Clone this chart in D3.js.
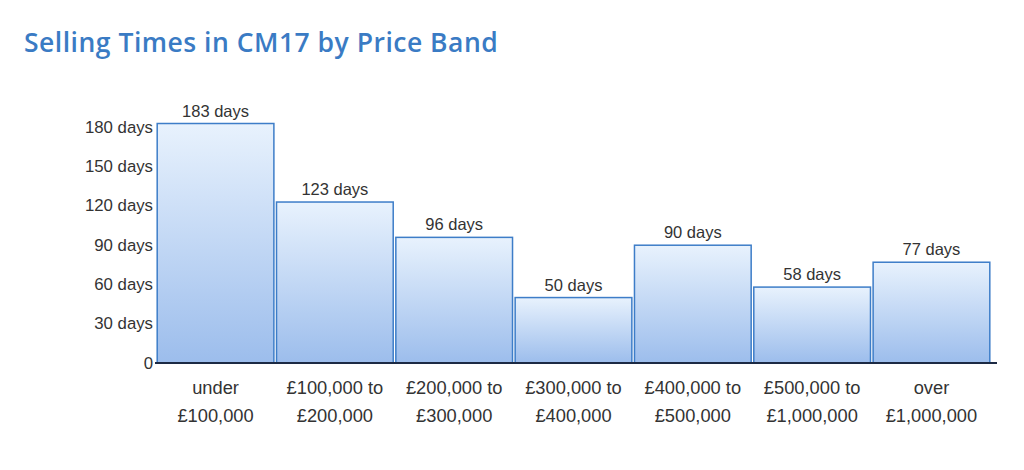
<!DOCTYPE html>
<html>
<head>
<meta charset="utf-8">
<script src="https://cdn.jsdelivr.net/npm/d3@7"></script>
<style>
  body { margin: 0; background: #fff; }
  .chart text { font-family: "Liberation Sans", Arial, sans-serif; fill: #333; }
</style>
</head>
<body>
<svg class="chart" width="1024" height="470"></svg>
<script>
// price bands and average selling time in days
const bands = [
  ["under", "£100,000"],
  ["£100,000 to", "£200,000"],
  ["£200,000 to", "£300,000"],
  ["£300,000 to", "£400,000"],
  ["£400,000 to", "£500,000"],
  ["£500,000 to", "£1,000,000"],
  ["over", "£1,000,000"]
];
const days = [183, 123, 96, 50, 90, 58, 77];
const yTicks = [0, 30, 60, 90, 120, 150, 180];

const svg = d3.select("svg.chart");

svg.append("text")
  .attr("x", 24)
  .attr("y", 52)
  .style("font-family", "'Open Sans', 'Noto Sans', sans-serif")
  .style("font-weight", 600)
  .style("font-size", "26.5px")
  .style("letter-spacing", "0.5px")
  .style("fill", "#3a7bc4")
  .text("Selling Times in CM17 by Price Band");

const grad = svg.append("defs").append("linearGradient")
  .attr("id", "barFill")
  .attr("x1", 0).attr("y1", 0).attr("x2", 0).attr("y2", 1);
grad.append("stop").attr("offset", "0%").attr("stop-color", "#e8f2fd");
grad.append("stop").attr("offset", "100%").attr("stop-color", "#9cbdec");

const x = d3.scaleBand()
  .domain(d3.range(bands.length))
  .range([156, 991])
  .paddingInner(0.022)
  .paddingOuter(0.01);

const y = d3.scaleLinear()
  .domain([0, 183])
  .range([363, 123.5]);

// bars
svg.append("g").selectAll("rect")
  .data(days)
  .join("rect")
    .attr("x", (d, i) => x(i))
    .attr("y", d => y(d))
    .attr("width", x.bandwidth())
    .attr("height", d => y(0) - y(d))
    .attr("fill", "url(#barFill)")
    .attr("stroke", "#3d7dc8")
    .attr("stroke-width", 1.5);

// value labels
svg.append("g").selectAll("text")
  .data(days)
  .join("text")
    .attr("x", (d, i) => x(i) + x.bandwidth() / 2)
    .attr("y", d => y(d) - 7)
    .attr("text-anchor", "middle")
    .style("font-size", "16.5px")
    .text(d => d + " days");

// y axis labels, no line
const yAxis = svg.append("g")
  .attr("transform", "translate(155,0)")
  .call(d3.axisLeft(y).tickValues(yTicks).tickSize(0).tickPadding(2)
    .tickFormat(d => d === 0 ? "0" : d + " days"));
yAxis.select(".domain").remove();
yAxis.selectAll("text")
  .style("font-size", "16.8px")
  .attr("dy", "0.3em");

// baseline
svg.append("line")
  .attr("x1", 155).attr("x2", 997)
  .attr("y1", y(0)).attr("y2", y(0))
  .attr("stroke", "#1c2a44")
  .attr("stroke-width", 2);

// category labels on two lines
const xl = svg.append("g").selectAll("text")
  .data(bands)
  .join("text")
    .attr("text-anchor", "middle")
    .attr("x", (d, i) => x(i) + x.bandwidth() / 2)
    .attr("y", 394)
    .style("font-size", "18.3px");
xl.selectAll("tspan")
  .data(d => d)
  .join("tspan")
    .attr("x", function() { return d3.select(this.parentNode).attr("x"); })
    .attr("dy", (d, i) => i === 0 ? 0 : 27.5)
    .text(d => d);
</script>
</body>
</html>
